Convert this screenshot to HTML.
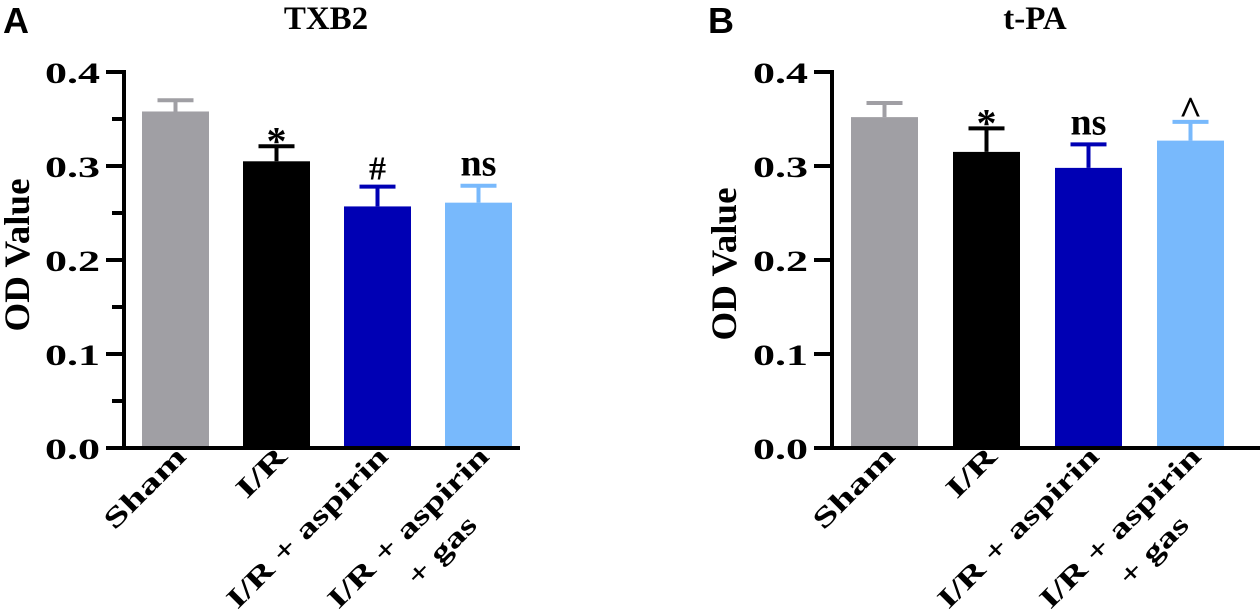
<!DOCTYPE html>
<html><head><meta charset="utf-8"><style>
html,body{margin:0;padding:0;background:#fff;overflow:hidden;}
svg{display:block;}
text{font-family:"Liberation Serif",serif;font-weight:bold;fill:#000;}
</style></head><body>
<svg id="c" width="1260" height="611" viewBox="0 0 1260 611" xmlns="http://www.w3.org/2000/svg"></svg>
<script>
const categories = ["Sham", "I/R", "I/R + aspirin", "I/R + aspirin|+ gas"];
const colors = ["#a09fa4", "#000000", "#0000b4", "#78b9fc"];
const txb2Values = [0.358, 0.305, 0.257, 0.261];
const txb2Errors = [0.012, 0.016, 0.021, 0.018];
const txb2Marks = ["", "*", "#", "ns"];
const tpaValues = [0.352, 0.315, 0.298, 0.327];
const tpaErrors = [0.015, 0.025, 0.025, 0.020];
const tpaMarks = ["", "*", "ns", "^"];
const yTicks = [0, 0.1, 0.2, 0.3, 0.4];
const yTickLabels = ["0.0", "0.1", "0.2", "0.3", "0.4"];

const NS = "http://www.w3.org/2000/svg";
const svg = document.getElementById('c');
function mk(tag, attrs, parent, txt) {
  const e = document.createElementNS(NS, tag);
  for (const k in attrs) e.setAttribute(k, attrs[k]);
  if (txt !== undefined) e.textContent = txt;
  (parent || svg).appendChild(e);
  return e;
}
const labelLens = [103, 59, 215, 215];
const markStyle = {"*": {fs: 40, off: 8}, "#": {fs: 34, off: -7}, "ns": {fs: 38, off: -10}, "^": {fs: 40, off: 2}};

function panel(cfg) {
  const g = mk('g', {});
  
  
  const y0 = 448, yTop = 72, ax = cfg.ax;
  const yS = v => y0 - (v / 0.4) * (y0 - yTop);
  const xS = i => cfg.bar0 + i * cfg.step;
  const bw = 67;
  const L = mk('text', {x: cfg.letterX, y: 33, 'font-size': 36, style: 'font-family:"Liberation Sans",sans-serif;font-weight:bold'}, g, cfg.letter);
  
  
  const T = mk('text', {x: cfg.titleX, y: 29, 'font-size': 33, 'text-anchor': 'middle'}, g, cfg.title);
  
  
  const Y = mk('text', {x: 0, y: 0, 'font-size': 36, 'text-anchor': 'middle', transform: `translate(${cfg.yTitleX},${cfg.yTitleY}) rotate(-90)`, textLength: 153, lengthAdjust: 'spacingAndGlyphs'}, g, 'OD Value');
  
  
  cfg.values.forEach((v, i) => {
    const x = xS(i), cx = x + bw / 2, top = yS(v), et = yS(v + cfg.errors[i]);
    const b = mk('rect', {x: x, y: top, width: bw, height: y0 - top, fill: colors[i]}, g);
    
    
    const e = mk('path', {d: `M${cx},${top} V${et} M${cx-18},${et} H${cx+18}`, stroke: colors[i], 'stroke-width': 4, fill: 'none'}, g);
    
    
    if (cfg.marks[i]) {
      const m = cfg.marks[i], st = markStyle[m];
      const t = mk('text', {x: cx, y: et + st.off, 'font-size': st.fs, 'text-anchor': 'middle'}, g, m);
      
      
    }
    const parts = categories[i].split('|');
    const lx = cx + 12, ly = 458;
    const t = mk('text', {transform: `translate(${lx},${ly}) rotate(-45)`, 'font-size': 28, 'text-anchor': 'end'}, g);
    
    
    mk('tspan', {x: 0, y: 0, textLength: labelLens[i], lengthAdjust: 'spacingAndGlyphs'}, t, parts[0]);
    if (parts[1]) mk('tspan', {x: -57, y: 40, textLength: 86, lengthAdjust: 'spacingAndGlyphs'}, t, parts[1]);
  });
  const axes = mk('path', {d: `M${ax},${yTop-2} V${y0} H${cfg.xEnd}`, stroke: '#000', 'stroke-width': 4, fill: 'none'}, g);
  
  
  yTicks.forEach((v, i) => {
    const y = yS(v);
    const tk = mk('line', {x1: ax - 18, x2: ax, y1: y, y2: y, stroke: '#000', 'stroke-width': 4}, g);
    
    
    const tl = mk('text', {x: ax - 24, y: y + 11, 'font-size': 30, 'text-anchor': 'end', textLength: 55, lengthAdjust: 'spacingAndGlyphs'}, g, yTickLabels[i]);
    
    
    if (cfg.minor && i < yTicks.length - 1) {
      const ym = yS(v + 0.05);
      const mt = mk('line', {x1: ax - 12, x2: ax, y1: ym, y2: ym, stroke: '#000', 'stroke-width': 4}, g);
      
      
    }
  });
}
panel({name: 'panel-a-txb2', letter: 'A', letterX: 3, title: 'TXB2', titleX: 326, yTitleX: 29, yTitleY: 255, ax: 124, bar0: 142, step: 101, xEnd: 520, values: txb2Values, errors: txb2Errors, marks: txb2Marks, minor: true});
panel({name: 'panel-b-tpa', letter: 'B', letterX: 708, title: 't-PA', titleX: 1035, yTitleX: 736, yTitleY: 264, ax: 832, bar0: 851, step: 102, xEnd: 1260, values: tpaValues, errors: tpaErrors, marks: tpaMarks, minor: false});
</script>
</body></html>
